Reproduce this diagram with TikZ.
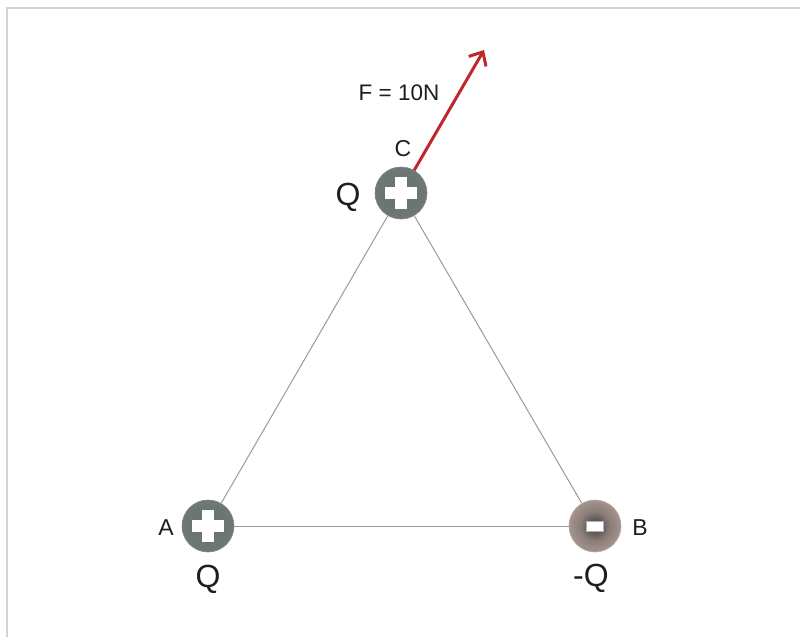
\documentclass[tikz,border=0pt]{standalone}
\usepackage{fontspec}
\setmainfont{Liberation Sans}
\usetikzlibrary{arrows.meta}
\definecolor{plusin}{HTML}{66716F}
\definecolor{plusmid}{HTML}{707B79}
\definecolor{plusout}{HTML}{9AA4A2}
\definecolor{plusedge}{HTML}{7C8684}
\definecolor{minin}{HTML}{3A3837}
\definecolor{minmid}{HTML}{8A7C76}
\definecolor{minout}{HTML}{B8A8A0}
\definecolor{forcered}{HTML}{C0272D}
\definecolor{framegray}{HTML}{D4D4D4}
\definecolor{edgegray}{HTML}{9A9A9A}
\definecolor{txt}{HTML}{1E1E1E}
\pgfdeclareradialshading{plusball}{\pgfpoint{0bp}{0bp}}{color(0bp)=(plusin); color(34bp)=(plusmid); color(44bp)=(plusout); color(48bp)=(plusedge); color(50bp)=(plusedge)}
\pgfdeclareradialshading{minusball}{\pgfpoint{0bp}{0bp}}{color(0bp)=(minin); color(14bp)=(minmid); color(34bp)=(minout); color(50bp)=(minout)}
\tikzset{
  charge/.style={circle, minimum size=52pt, inner sep=0pt, line width=0.6pt},
  poscharge/.style={charge, shading=plusball, draw=plusedge, path picture={
      \fill[white] ([shift={(-16pt,-6pt)}]path picture bounding box.center) rectangle ++(32pt,12pt);
      \fill[white] ([shift={(-6pt,-16pt)}]path picture bounding box.center) rectangle ++(12pt,32pt);}},
  negcharge/.style={charge, shading=minusball, draw=minout, path picture={
      \filldraw[fill=white, draw=gray!60, line width=0.8pt] ([shift={(-8.5pt,-5pt)}]path picture bounding box.center) rectangle ++(17pt,10pt);}},
  lbl/.style={font=\fontsize{23}{26}\selectfont, text=txt, anchor=base, inner sep=0pt},
  bigq/.style={font=\fontsize{32}{36}\selectfont, text=txt, anchor=base, inner sep=0pt},
  flbl/.style={font=\fontsize{22.5}{26}\selectfont, text=txt, anchor=base, inner sep=0pt},
  sideline/.style={draw=edgegray, line width=1pt},
  force/.style={draw=forcered, line width=3pt, -{Straight Barb[length=11pt,width=20pt,line width=3pt]}}
}
\begin{document}
\begin{tikzpicture}[x=1pt, y=-1pt]
  \useasboundingbox (0,0) rectangle (800,637);
  \fill[white] (0,0) rectangle (800,637);
  \draw[framegray, line width=2pt] (7,637) -- (7,8) -- (800,8);

  \node[poscharge] (C) at (401,193) {};
  \node[poscharge] (A) at (208,526) {};
  \node[negcharge] (B) at (595,526) {};

  \draw[sideline] (C) -- (A);
  \draw[sideline] (C) -- (B);
  \draw[sideline] (A) -- (B);

  \coordinate (ftip) at (484,50);
  \draw[force] (C) -- (ftip);

  \node[flbl] (F) at (399,100) {F = 10N};
  \node[lbl] (lC) at (403,156) {C};
  \node[lbl] (lA) at (166,535) {A};
  \node[lbl] (lB) at (640,535) {B};
  \node[bigq] (qC) at (348,205) {Q};
  \node[bigq] (qA) at (208,587) {Q};
  \node[bigq] (qB) at (591,586) {-Q};
\end{tikzpicture}
\end{document}
